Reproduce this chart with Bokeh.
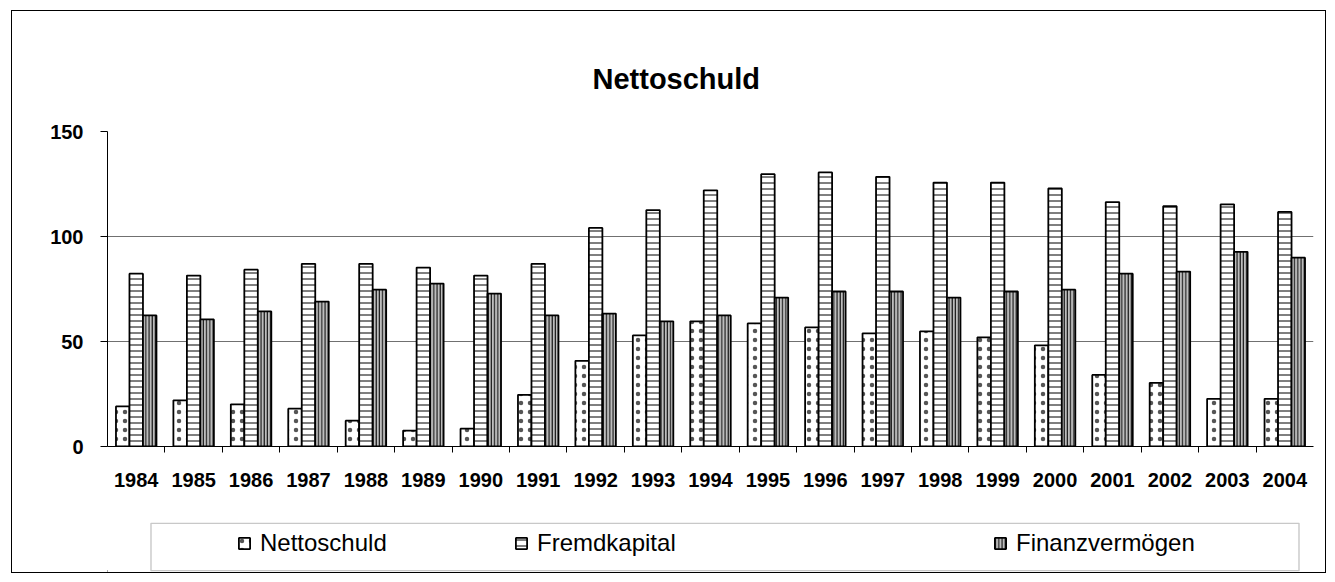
from bokeh.plotting import figure
from bokeh.layouts import column
from bokeh.models import (ColumnDataSource, FactorRange, Range1d, LinearAxis, CategoricalAxis,
                          FixedTicker, Legend, LegendItem, BoxAnnotation)
from bokeh.transform import dodge
from bokeh.embed import file_html
from bokeh.resources import INLINE

years = ["1984", "1985", "1986", "1987", "1988", "1989", "1990", "1991", "1992", "1993", "1994",
         "1995", "1996", "1997", "1998", "1999", "2000", "2001", "2002", "2003", "2004"]
nettoschuld = [19.1, 22.0, 20.1, 18.0, 12.3, 7.6, 8.5, 24.6, 40.8, 52.9, 59.6,
               58.6, 56.7, 53.9, 54.8, 52.0, 48.2, 34.1, 30.3, 22.7, 22.7]
fremdkapital = [82.3, 81.4, 84.2, 87.0, 87.0, 85.2, 81.4, 87.0, 104.1, 112.6, 122.0,
                129.7, 130.5, 128.4, 125.7, 125.7, 122.9, 116.4, 114.4, 115.3, 111.7]
finanzvermoegen = [62.4, 60.5, 64.3, 69.0, 74.7, 77.6, 72.8, 62.4, 63.3, 59.6, 62.4,
                   70.9, 73.8, 73.8, 70.9, 73.8, 74.7, 82.3, 83.3, 92.7, 89.9]
y_ticks = [0, 50, 100, 150]
grid_ticks = [50, 100]
series_names = ["Nettoschuld", "Fremdkapital", "Finanzvermögen"]
title_text = "Nettoschuld"

FONT = "Liberation Sans"
STYLES = [
    dict(fill_color="white", line_color="black", line_width=1.8,
         hatch_pattern=".", hatch_color="#555555", hatch_scale=9, hatch_weight=0.9),
    dict(fill_color="white", line_color="black", line_width=1.8,
         hatch_pattern="-", hatch_color="black", hatch_scale=6, hatch_weight=1),
    dict(fill_color="#bdbdbd", line_color="black", line_width=1.8,
         hatch_pattern="|", hatch_color="black", hatch_scale=3.2, hatch_weight=1),
]

src = ColumnDataSource(dict(year=years, n=nettoschuld, f=fremdkapital, v=finanzvermoegen))

BL, BR = 95, 12   # left / right borders shared by both panels (frames are aligned)

p = figure(width=1313, height=489, x_range=FactorRange(*years, range_padding=0),
           y_range=Range1d(0, 150), output_backend="svg", toolbar_location=None,
           x_axis_location=None, y_axis_location=None,
           min_border_left=BL, min_border_right=BR, min_border_top=120, min_border_bottom=54)
p.outline_line_color = None
p.background_fill_color = "white"
p.border_fill_color = "white"

# title
p.title.text = title_text
p.title.text_font = FONT
p.title.text_font_size = "29px"
p.title.text_font_style = "bold"
p.title.text_color = "black"
p.title.align = "left"
p.title.offset = 485
p.title.standoff = 74

# bars
W = 0.235
cols = ["n", "f", "v"]
for col_name, off, st in zip(cols, [-W, 0, W], STYLES):
    p.vbar(x=dodge("year", off, range=p.x_range), top=col_name, width=W, source=src, **st)

# y axis
yax = LinearAxis(ticker=FixedTicker(ticks=y_ticks))
yax.axis_line_color = "black"
yax.major_tick_out = 7
yax.major_tick_in = 0
yax.minor_tick_line_color = None
yax.major_label_text_font = FONT
yax.major_label_text_font_size = "20px"
yax.major_label_text_font_style = "bold"
yax.major_label_text_color = "black"
yax.major_label_standoff = 17
p.add_layout(yax, "left")

p.ygrid.ticker = FixedTicker(ticks=grid_ticks)
p.ygrid.grid_line_color = "#707070"
p.ygrid.grid_line_width = 1
p.xgrid.grid_line_color = None

# x boundary ticks: factors centred on the category boundaries
bounds = ["b%d" % i for i in range(len(years) + 1)]
p.extra_x_ranges = {"bound": FactorRange(*bounds, range_padding=-0.5, range_padding_units="absolute")}
tax = CategoricalAxis(x_range_name="bound")
tax.axis_line_color = "black"
tax.major_tick_out = 6
tax.major_tick_in = 0
tax.minor_tick_line_color = None
tax.major_label_text_font_size = "0px"
tax.major_label_text_alpha = 0
tax.major_label_standoff = 0
p.add_layout(tax, "below")

cax = CategoricalAxis()
cax.axis_line_color = None
cax.major_tick_line_color = None
cax.minor_tick_line_color = None
cax.major_label_text_font = FONT
cax.major_label_text_font_size = "20px"
cax.major_label_text_font_style = "bold"
cax.major_label_text_color = "black"
cax.major_label_standoff = 14
p.add_layout(cax, "below")

# legend panel
lp = figure(width=1313, height=72, output_backend="svg", toolbar_location=None,
            x_range=Range1d(0, 1), y_range=Range1d(0, 1),
            x_axis_location=None, y_axis_location=None,
            min_border_left=BL, min_border_right=BR, min_border_top=22, min_border_bottom=1)
lp.outline_line_color = None
lp.border_fill_color = "white"
lp.xgrid.grid_line_color = None
lp.ygrid.grid_line_color = None

box = BoxAnnotation(left=43.5, right=1191.5, left_units="screen", right_units="screen",
                    top=0.985, bottom=0.015, fill_color=None, fill_alpha=0,
                    line_color="#4a4a4a", line_width=1.4)
lp.add_layout(box)

carrier = ColumnDataSource(dict(x=[-1], top=[0]))   # off-screen carrier for the legend swatches
for st, name, vx in zip(STYLES, series_names, [130, 407, 886]):
    rr = lp.vbar(x="x", top="top", width=0.01, source=carrier, **st)
    lg = Legend(items=[LegendItem(label=name, renderers=[rr])], location=(vx, 14),
                orientation="horizontal", padding=0, margin=0, spacing=0,
                glyph_width=14, glyph_height=14, label_standoff=9,
                label_text_font=FONT, label_text_font_size="24px", label_text_color="black",
                border_line_color=None, background_fill_alpha=0)
    lp.add_layout(lg, "center")

layout = column(p, lp, spacing=0)
layout.styles = {"border": "1.5px solid black", "margin-left": "11px", "margin-top": "10px"}

open("out.html", "w").write(file_html(layout, INLINE))
